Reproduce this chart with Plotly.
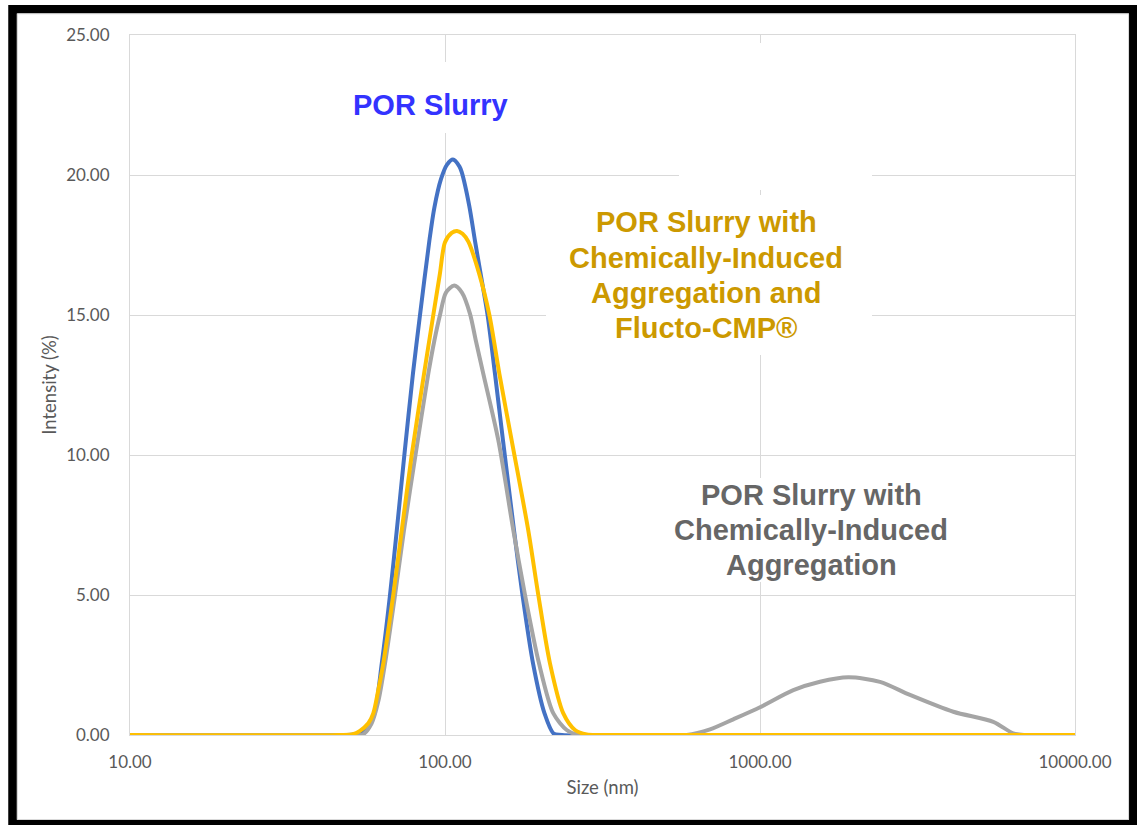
import plotly.graph_objects as go

# ---------------- data ----------------
blue_size = [10, 46.4, 51.0, 56.4, 59.7, 63.0, 66.9, 70.3, 74.3, 79.1, 83.3, 89.2, 92.5,
             97.1, 101.5, 106.0, 111.2, 113.0, 119.4, 124.5, 129.8, 136.5, 144.1, 152.8, 165.6,
             176.2, 190.3, 207.0, 221.2, 235.2, 10000]
blue_int = [0, 0, 0.02, 0.18, 0.77, 2.56, 5.0, 7.31, 10.0, 12.9, 15.0, 17.65, 18.83,
            19.85, 20.37, 20.55, 20.3, 20.1, 18.9, 17.65, 16.46, 15.0, 12.9, 10.52, 7.31,
            5.0, 2.56, 0.77, 0.05, 0, 0]

gold_size = [10, 46.4, 51.0, 53.7, 57.1, 59.2, 61.4, 63.7, 68.5, 72.9, 78.4, 85.8, 91.8,
             96.3, 100.0, 105.0, 109.2, 113.7, 118.6, 128.5, 138.3, 148.8, 162.8, 183.8,
             197.8, 215.4, 237.5, 258.6, 281.8, 310.5, 10000]
gold_int = [0, 0, 0.03, 0.15, 0.42, 0.77, 1.6, 2.56, 5.0, 7.31, 10.0, 12.9, 15.0,
            16.46, 17.6, 17.93, 18.0, 17.9, 17.62, 16.46, 15.0, 12.9, 10.52, 7.31,
            5.0, 2.56, 0.77, 0.18, 0.02, 0, 0]

grey_size = [10, 46.4, 55.0, 58.5, 61.4, 64.5, 69.4, 74.1, 80.6, 88.5, 92.5, 96.4,
             100.7, 107.0, 113.2, 120.0, 125.2, 132.3, 147.7, 164.8, 179.5, 198.8, 220.8,
             243.4, 261.9, 288.6, 585.2, 693.9, 822.7, 1000, 1275.8, 1550.5, 1907.5, 2404,
             2994, 4109, 5502, 6370, 6939, 10000]
grey_int = [0, 0, 0.03, 0.42, 1.2, 2.56, 5.0, 7.31, 10.0, 12.9, 14.08, 15.0,
            15.8, 16.05, 15.8, 15.05, 14.1, 12.9, 10.52, 7.31, 5.0, 2.56, 0.77,
            0.18, 0.02, 0, 0, 0.2, 0.56, 0.99, 1.6, 1.9, 2.06, 1.9,
            1.43, 0.83, 0.47, 0.06, 0, 0]

x_tickvals = [10, 100, 1000, 10000]
x_ticktext = ["10.00", "100.00", "1000.00", "10000.00"]
y_tickvals = [0, 5, 10, 15, 20, 25]
y_ticktext = ["0.00", "5.00", "10.00", "15.00", "20.00", "25.00"]

# ---------------- layout geometry ----------------
W, H = 1137, 825
L, R, T, B = 130, 62, 35, 90
PW, PH = W - L - R, H - T - B


def px(x):
    return (x - L) / PW


def py(y):
    return (H - B - y) / PH


fig = go.Figure()
fig.add_trace(go.Scatter(x=blue_size, y=blue_int, mode="lines",
                         line=dict(color="#4472C4", width=4, shape="spline", smoothing=0.8),
                         name="POR Slurry"))
fig.add_trace(go.Scatter(x=grey_size, y=grey_int, mode="lines",
                         line=dict(color="#A5A5A5", width=4, shape="spline", smoothing=0.8),
                         name="Aggregation"))
fig.add_trace(go.Scatter(x=gold_size, y=gold_int, mode="lines",
                         line=dict(color="#FFC000", width=4, shape="spline", smoothing=0.8),
                         name="Flucto"))

tick_font = dict(family="Lato", size=17, color="#595959")
title_font = dict(family="Lato", size=18.5, color="#595959")

fig.update_xaxes(type="log", range=[1, 4], tickvals=x_tickvals, ticktext=x_ticktext,
                 showgrid=True, gridcolor="#D9D9D9", gridwidth=1,
                 showline=True, linecolor="#D9D9D9", linewidth=1, mirror=True,
                 ticks="outside", ticklen=12, tickcolor="rgba(0,0,0,0)",
                 tickfont=tick_font, zeroline=False,
                 title=dict(text="Size (nm)", font=title_font, standoff=9))
fig.update_yaxes(range=[0, 25], tickvals=y_tickvals, ticktext=y_ticktext,
                 showgrid=True, gridcolor="#D9D9D9", gridwidth=1,
                 showline=True, linecolor="#D9D9D9", linewidth=1, mirror=True,
                 ticks="outside", ticklen=16, tickcolor="rgba(0,0,0,0)",
                 tickfont=tick_font, zeroline=False,
                 title=dict(text="Intensity (%)", font=title_font, standoff=4))


def white_box(x0, y0, x1, y1):
    return dict(type="rect", xref="paper", yref="paper",
                x0=px(x0), x1=px(x1), y0=py(y1), y1=py(y0),
                line=dict(width=0), fillcolor="white", layer="above")


shapes = [
    white_box(340, 62, 520, 133),     # behind "POR Slurry"
    white_box(679, 43, 872, 190),     # upper white text-box area
    white_box(546, 195, 872, 355),    # behind gold label
    white_box(662, 478, 958, 582),    # behind grey label
    # outer black frame
    dict(type="rect", xref="paper", yref="paper",
         x0=px(12.5), x1=px(1133.3), y0=py(824), y1=py(9.2),
         line=dict(color="black", width=8.5), fillcolor="rgba(0,0,0,0)", layer="above"),
    # thin light inner border
    dict(type="rect", xref="paper", yref="paper",
         x0=px(17.5), x1=px(1128.5), y0=py(819.5), y1=py(13.8),
         line=dict(color="#D9D9D9", width=1), fillcolor="rgba(0,0,0,0)", layer="above"),
]
fig.update_layout(shapes=shapes)

annots = []


def add_line(text, cx, cy, color):
    annots.append(dict(text="<b>" + text + "</b>", xref="paper", yref="paper",
                       x=px(cx), y=py(cy), xanchor="center", yanchor="middle",
                       showarrow=False,
                       font=dict(family="Liberation Sans", size=29, color=color)))


add_line("POR Slurry", 430, 105, "#3333FF")
for t, yy in zip(["POR Slurry with", "Chemically-Induced", "Aggregation and", "Flucto-CMP®"],
                 [222, 258, 293, 328]):
    add_line(t, 706, yy, "#CC9900")
for t, yy in zip(["POR Slurry with", "Chemically-Induced", "Aggregation"], [495, 530, 565]):
    add_line(t, 811, yy, "#666666")

fig.update_layout(annotations=annots, width=W, height=H,
                  margin=dict(l=L, r=R, t=T, b=B, autoexpand=False),
                  paper_bgcolor="white", plot_bgcolor="white", showlegend=False)

fig.write_html("out.html")
